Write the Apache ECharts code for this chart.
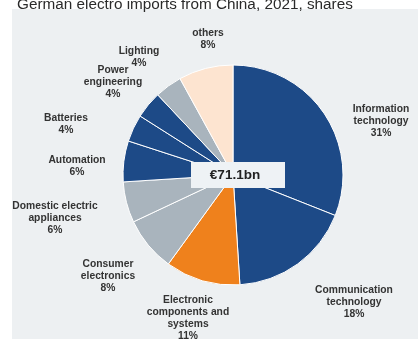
<!DOCTYPE html>
<html>
<head>
<meta charset="utf-8">
<script src="https://cdn.jsdelivr.net/npm/echarts@6/dist/echarts.min.js"></script>
<style>html,body{margin:0;padding:0;background:#fff}#c{width:418px;height:339px}</style>
</head>
<body>
<div id="c"></div>
<script>
var categories = ['Information\ntechnology', 'Communication\ntechnology', 'Electronic\ncomponents and\nsystems', 'Consumer\nelectronics', 'Domestic electric\nappliances', 'Automation', 'Batteries', 'Power\nengineering', 'Lighting', 'others'];
var shares = [31, 18, 11, 8, 6, 6, 4, 4, 4, 8];
var totalLabel = '€71.1bn';
var titleText = 'German electro imports from China, 2021, shares';

var BLUE = '#1d4a87', ORANGE = '#ef811c', GRAY = '#a9b4bd', PEACH = '#fde4d0';
var colors = [BLUE, BLUE, ORANGE, GRAY, GRAY, BLUE, BLUE, BLUE, GRAY, PEACH];
var labelPos = [[381,121],[354,302],[188,318],[108,276],[55,218],[77,166],[66,124],[113,82],[139,57],[208,39]];

var chart = echarts.init(document.getElementById('c'));
chart.setOption({
  animation: false,
  title: { text: titleText, left: 12, top: -8, textStyle: { fontFamily: 'Arial, Liberation Sans', fontSize: 15.3, fontWeight: 'normal', color: '#2a2a2a' } },
  graphic: [
    { type: 'rect', z: -10, shape: { x: 12, y: 9, width: 406, height: 330 }, style: { fill: '#edf0f2' } },
    { type: 'rect', z: 100, shape: { x: 191, y: 162, width: 94, height: 26 }, style: { fill: '#eef2f5' } },
    { type: 'text', z: 101, x: 235, y: 175, style: { text: totalLabel, fill: '#222', font: 'bold 13.5px Arial, Liberation Sans', align: 'center', verticalAlign: 'middle' } }
  ],
  series: [{
    type: 'pie',
    center: [233, 175],
    radius: [0, 110],
    startAngle: 90,
    clockwise: true,
    itemStyle: { borderColor: '#ffffff', borderWidth: 1 },
    label: {
      show: true, position: 'outside', overflow: 'none',
      formatter: function (p) { return p.name + '\n' + p.value + '%'; },
      fontFamily: 'Arial, Liberation Sans', fontSize: 10.3, fontWeight: 'bold', color: '#333', lineHeight: 12, align: 'center'
    },
    labelLine: { show: false },
    labelLayout: function (p) {
      var q = labelPos[p.dataIndex];
      return { x: q[0], y: q[1], align: 'center', verticalAlign: 'middle' };
    },
    data: categories.map(function (c, i) { return { name: c, value: shares[i], itemStyle: { color: colors[i] } }; })
  }]
});
</script>
</body>
</html>
